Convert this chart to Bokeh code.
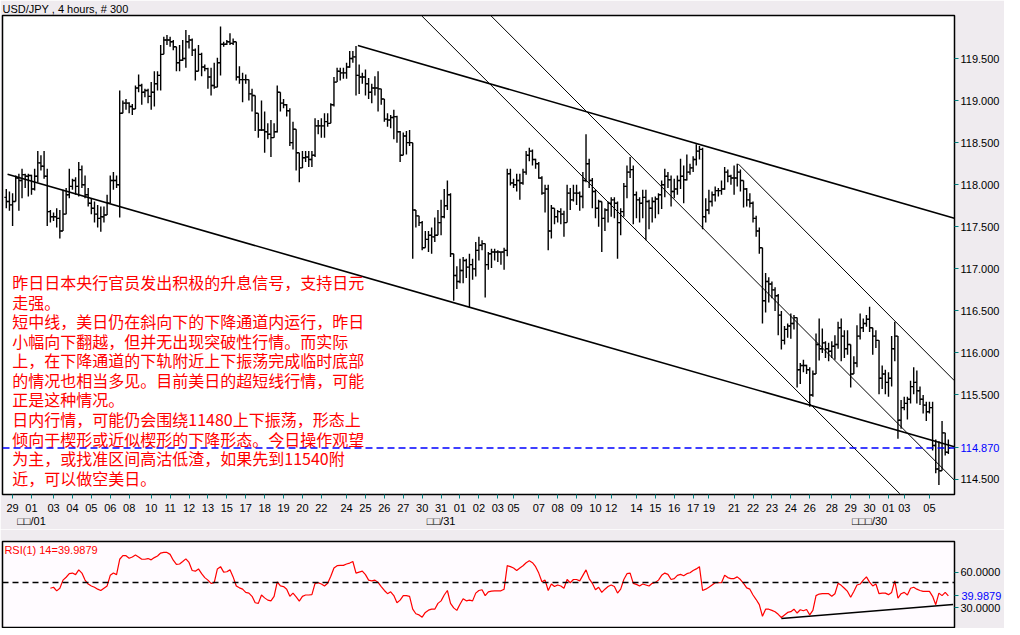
import numpy as np
from bokeh.plotting import figure
from bokeh.models import Range1d, FixedTicker, LinearAxis, Span, ColumnDataSource
from bokeh.layouts import column
from bokeh.embed import file_html
from bokeh.resources import INLINE
from bokeh.core.properties import value

# ---------------- data (USD/JPY 4-hour bars, 300 bars) ----------------
bar_open = [
117.85, 117.80, 117.76, 117.80, 118.08, 118.05, 118.12, 118.10, 118.11, 117.95,
118.10, 118.26, 118.22, 118.10, 117.68, 117.62, 117.62, 117.60, 117.45, 117.65,
117.88, 117.98, 118.05, 117.98, 118.18, 118.00, 117.88, 117.78, 117.72, 117.65,
117.60, 117.62, 117.64, 117.78, 118.05, 118.05, 118.00, 118.85, 118.97, 118.97,
118.93, 118.90, 119.15, 119.18, 119.10, 119.12, 119.05, 119.10, 119.20, 119.30,
119.55, 119.72, 119.72, 119.70, 119.64, 119.45, 119.48, 119.50, 119.70, 119.72,
119.60, 119.35, 119.55, 119.40, 119.38, 119.28, 119.18, 119.16, 119.45, 119.67,
119.67, 119.70, 119.68, 119.70, 119.28, 119.25, 119.25, 119.25, 119.08, 119.06,
118.85, 118.65, 118.65, 118.63, 118.60, 118.56, 118.63, 119.10, 118.97, 118.95,
118.88, 118.50, 118.66, 118.38, 118.20, 118.32, 118.33, 118.30, 118.35, 118.70,
118.70, 118.70, 118.75, 118.73, 118.95, 119.22, 119.35, 119.33, 119.33, 119.40,
119.50, 119.52, 119.30, 119.28, 119.28, 119.20, 119.10, 119.15, 119.15, 119.14,
119.02, 118.78, 118.77, 118.80, 118.81, 118.63, 118.35, 118.58, 118.50, 118.50,
117.70, 117.63, 117.55, 117.25, 117.35, 117.40, 117.38, 117.40, 117.55, 117.62,
117.75, 117.88, 117.18, 116.92, 116.85, 116.98, 117.10, 117.02, 117.05, 117.00,
117.22, 117.28, 117.30, 117.05, 117.18, 117.20, 117.20, 117.20, 117.20, 117.22,
118.13, 118.02, 118.00, 118.05, 118.02, 118.15, 118.35, 118.40, 118.30, 118.25,
118.08, 117.90, 117.95, 117.45, 117.72, 117.62, 117.68, 117.65, 117.55, 117.90,
117.82, 117.90, 117.90, 117.86, 118.05, 118.25, 118.05, 117.92, 117.72, 117.80,
117.60, 117.70, 117.78, 117.82, 117.78, 117.55, 117.68, 117.98, 118.15, 118.18,
117.88, 117.82, 117.78, 117.85, 117.80, 117.72, 117.80, 117.83, 117.88, 118.00,
118.10, 118.06, 117.92, 117.95, 118.05, 118.10, 118.06, 118.15, 118.20, 118.30,
118.40, 118.42, 117.62, 117.70, 117.80, 117.88, 117.93, 117.93, 117.95, 118.15,
118.10, 118.08, 118.08, 118.15, 118.05, 117.95, 117.82, 117.78, 117.60, 117.45,
117.25, 116.62, 116.85, 116.82, 116.75, 116.68, 116.45, 116.15, 116.28, 116.32,
116.35, 116.42, 115.80, 115.85, 115.85, 115.80, 115.50, 115.75, 116.10, 116.05,
116.12, 116.05, 116.02, 116.08, 116.10, 116.30, 116.20, 116.05, 116.10, 115.75,
115.88, 116.20, 116.30, 116.35, 116.40, 116.30, 116.20, 116.15, 115.70, 115.75,
115.65, 115.70, 116.05, 116.20, 115.20, 115.35, 115.40, 115.45, 115.60, 115.65,
115.55, 115.45, 115.38, 115.30, 115.35, 114.90, 114.62, 114.60, 115.05, 114.82,
]
bar_high = [
117.95, 117.92, 117.90, 118.11, 118.13, 118.19, 118.13, 118.13, 118.12, 118.19,
118.40, 118.35, 118.40, 118.19, 117.70, 117.67, 117.72, 117.70, 117.94, 117.96,
118.19, 118.07, 118.09, 118.27, 118.23, 118.11, 117.96, 117.84, 117.80, 117.76,
117.74, 117.74, 117.88, 118.11, 118.15, 118.11, 119.12, 119.00, 119.02, 118.98,
118.96, 119.18, 119.31, 119.20, 119.14, 119.14, 119.22, 119.35, 119.35, 119.66,
119.76, 119.78, 119.76, 119.72, 119.64, 119.66, 119.72, 119.84, 119.78, 119.74,
119.62, 119.66, 119.57, 119.43, 119.39, 119.39, 119.45, 119.51, 119.88, 119.70,
119.72, 119.80, 119.74, 119.70, 119.41, 119.33, 119.31, 119.25, 119.14, 119.06,
118.85, 119.00, 118.87, 118.73, 118.77, 118.73, 119.18, 119.10, 119.02, 118.96,
118.91, 118.75, 118.66, 118.38, 118.40, 118.40, 118.40, 118.40, 118.79, 118.77,
118.79, 118.85, 118.85, 118.97, 119.28, 119.39, 119.39, 119.39, 119.45, 119.59,
119.59, 119.65, 119.43, 119.33, 119.37, 119.27, 119.20, 119.29, 119.35, 119.14,
119.02, 118.85, 118.83, 118.89, 118.82, 118.64, 118.62, 118.64, 118.65, 118.50,
117.70, 117.63, 117.57, 117.45, 117.45, 117.49, 117.61, 117.70, 117.82, 117.95,
118.05, 117.90, 117.18, 117.03, 117.12, 117.14, 117.12, 117.18, 117.12, 117.32,
117.38, 117.34, 117.30, 117.20, 117.24, 117.24, 117.22, 117.20, 117.25, 118.19,
118.19, 118.07, 118.13, 118.13, 118.19, 118.40, 118.44, 118.42, 118.31, 118.27,
118.10, 118.00, 118.00, 117.76, 117.72, 117.70, 117.72, 117.69, 118.00, 117.96,
118.00, 118.00, 117.92, 118.15, 118.60, 118.31, 118.08, 117.94, 117.82, 117.80,
117.72, 117.80, 117.85, 117.85, 117.80, 117.72, 118.02, 118.23, 118.33, 118.23,
117.92, 117.85, 117.94, 117.94, 117.82, 117.85, 117.86, 117.90, 118.05, 118.19,
118.15, 118.11, 118.07, 118.11, 118.31, 118.23, 118.36, 118.25, 118.34, 118.48,
118.46, 118.44, 117.84, 117.94, 117.92, 117.98, 117.96, 118.05, 118.21, 118.18,
118.12, 118.23, 118.25, 118.18, 118.05, 117.96, 117.90, 117.80, 117.63, 117.49,
117.25, 116.95, 116.90, 116.85, 116.78, 116.70, 116.50, 116.32, 116.35, 116.47,
116.45, 116.42, 115.88, 115.92, 115.86, 115.83, 115.79, 116.23, 116.41, 116.29,
116.14, 116.12, 116.14, 116.21, 116.37, 116.41, 116.27, 116.27, 116.10, 115.96,
116.33, 116.47, 116.41, 116.45, 116.55, 116.30, 116.27, 116.15, 115.85, 115.80,
115.77, 116.20, 116.37, 116.20, 115.44, 115.48, 115.48, 115.67, 115.83, 115.79,
115.60, 115.50, 115.42, 115.42, 115.42, 114.97, 114.95, 115.19, 115.05, 114.97,
]
bar_low = [
117.72, 117.69, 117.51, 117.80, 117.69, 117.84, 117.96, 117.86, 117.88, 117.93,
118.03, 118.17, 118.07, 117.51, 117.55, 117.57, 117.49, 117.36, 117.45, 117.65,
117.84, 117.94, 117.88, 117.86, 117.96, 117.84, 117.74, 117.65, 117.55, 117.49,
117.44, 117.55, 117.64, 117.78, 117.94, 117.96, 117.61, 118.85, 118.89, 118.85,
118.83, 118.90, 119.10, 118.95, 119.04, 118.97, 118.89, 118.93, 119.12, 119.12,
119.55, 119.66, 119.64, 119.60, 119.35, 119.35, 119.47, 119.39, 119.62, 119.53,
119.24, 119.35, 119.29, 119.35, 119.14, 119.06, 119.14, 119.16, 119.30, 119.64,
119.66, 119.66, 119.66, 119.24, 119.20, 118.98, 119.20, 119.00, 118.87, 118.64,
118.56, 118.64, 118.38, 118.54, 118.33, 118.56, 118.62, 118.87, 118.91, 118.81,
118.46, 118.42, 118.17, 118.03, 118.20, 118.27, 118.21, 118.21, 118.33, 118.60,
118.56, 118.56, 118.69, 118.73, 118.93, 119.22, 119.24, 119.26, 119.26, 119.39,
119.45, 119.06, 119.08, 119.20, 119.06, 119.02, 118.97, 119.06, 118.87, 118.95,
118.75, 118.69, 118.67, 118.54, 118.50, 118.27, 118.35, 118.36, 118.46, 117.12,
117.49, 117.51, 117.22, 117.25, 117.20, 117.18, 117.32, 117.41, 117.40, 117.60,
117.70, 117.14, 116.62, 116.76, 116.83, 116.83, 116.89, 116.54, 116.87, 116.91,
117.10, 117.22, 116.66, 116.99, 117.01, 117.10, 117.08, 117.05, 116.99, 117.15,
117.99, 117.96, 117.92, 117.82, 118.00, 118.12, 118.28, 118.23, 118.19, 118.07,
117.88, 117.67, 117.22, 117.36, 117.53, 117.55, 117.53, 117.38, 117.55, 117.70,
117.80, 117.76, 117.69, 117.72, 118.03, 117.96, 117.72, 117.60, 117.50, 117.20,
117.45, 117.55, 117.62, 117.60, 117.12, 117.40, 117.62, 117.84, 118.08, 117.53,
117.60, 117.55, 117.60, 117.34, 117.47, 117.55, 117.60, 117.65, 117.71, 117.85,
117.96, 117.74, 117.84, 117.88, 117.95, 117.78, 118.05, 118.12, 118.15, 118.23,
118.30, 117.47, 117.55, 117.65, 117.74, 117.80, 117.86, 117.88, 117.94, 118.03,
118.00, 117.88, 117.98, 117.92, 117.73, 117.74, 117.73, 117.55, 117.38, 117.18,
116.35, 116.48, 116.60, 116.65, 116.50, 116.21, 116.04, 116.10, 116.18, 116.17,
116.28, 115.59, 115.63, 115.77, 115.75, 115.36, 115.48, 115.75, 115.91, 116.00,
115.94, 115.90, 115.94, 115.92, 116.05, 115.90, 115.94, 115.98, 115.59, 115.75,
115.83, 116.16, 116.25, 116.31, 116.25, 115.98, 116.06, 115.51, 115.57, 115.51,
115.48, 115.60, 115.90, 114.98, 115.10, 115.32, 115.21, 115.40, 115.51, 115.40,
115.38, 115.28, 115.19, 115.28, 114.84, 114.57, 114.43, 114.60, 114.78, 114.80,
]
bar_close = [
117.80, 117.76, 117.80, 118.08, 118.05, 118.12, 118.10, 118.11, 117.95, 118.10,
118.26, 118.22, 118.10, 117.68, 117.62, 117.62, 117.60, 117.45, 117.65, 117.88,
117.98, 118.05, 117.98, 118.18, 118.00, 117.88, 117.78, 117.72, 117.65, 117.60,
117.62, 117.64, 117.78, 118.05, 118.05, 118.00, 118.85, 118.97, 118.97, 118.93,
118.90, 119.15, 119.18, 119.10, 119.12, 119.05, 119.10, 119.20, 119.30, 119.55,
119.72, 119.72, 119.70, 119.64, 119.45, 119.48, 119.50, 119.70, 119.72, 119.60,
119.35, 119.55, 119.40, 119.38, 119.28, 119.18, 119.16, 119.45, 119.67, 119.67,
119.70, 119.68, 119.70, 119.28, 119.25, 119.25, 119.25, 119.08, 119.06, 118.85,
118.65, 118.65, 118.63, 118.60, 118.56, 118.63, 119.10, 118.97, 118.95, 118.88,
118.50, 118.66, 118.38, 118.20, 118.32, 118.33, 118.30, 118.35, 118.70, 118.70,
118.70, 118.75, 118.73, 118.95, 119.22, 119.35, 119.33, 119.33, 119.40, 119.50,
119.52, 119.30, 119.28, 119.28, 119.20, 119.10, 119.15, 119.15, 119.14, 119.02,
118.78, 118.77, 118.80, 118.81, 118.63, 118.35, 118.58, 118.50, 118.50, 117.70,
117.63, 117.55, 117.25, 117.35, 117.40, 117.38, 117.40, 117.55, 117.62, 117.75,
117.88, 117.18, 116.92, 116.85, 116.98, 117.10, 117.02, 117.05, 117.00, 117.22,
117.28, 117.30, 117.05, 117.18, 117.20, 117.20, 117.20, 117.20, 117.22, 118.13,
118.02, 118.00, 118.05, 118.02, 118.15, 118.35, 118.40, 118.30, 118.25, 118.08,
117.90, 117.95, 117.45, 117.72, 117.62, 117.68, 117.65, 117.55, 117.90, 117.82,
117.90, 117.90, 117.86, 118.05, 118.25, 118.05, 117.92, 117.72, 117.80, 117.60,
117.70, 117.78, 117.82, 117.78, 117.55, 117.68, 117.98, 118.15, 118.18, 117.88,
117.82, 117.78, 117.85, 117.80, 117.72, 117.80, 117.83, 117.88, 118.00, 118.10,
118.06, 117.92, 117.95, 118.05, 118.10, 118.06, 118.15, 118.20, 118.30, 118.40,
118.42, 117.62, 117.70, 117.80, 117.88, 117.93, 117.93, 117.95, 118.15, 118.10,
118.08, 118.08, 118.15, 118.05, 117.95, 117.82, 117.78, 117.60, 117.45, 117.25,
116.62, 116.85, 116.82, 116.75, 116.68, 116.45, 116.15, 116.28, 116.32, 116.35,
116.42, 115.80, 115.85, 115.85, 115.80, 115.50, 115.75, 116.10, 116.05, 116.12,
116.05, 116.02, 116.08, 116.10, 116.30, 116.20, 116.05, 116.10, 115.75, 115.88,
116.20, 116.30, 116.35, 116.40, 116.30, 116.20, 116.15, 115.70, 115.75, 115.65,
115.70, 116.05, 116.20, 115.20, 115.35, 115.40, 115.45, 115.60, 115.65, 115.55,
115.45, 115.38, 115.30, 115.35, 114.90, 114.62, 114.60, 115.05, 114.82, 114.87,
]

rsi_start = 14
rsi_values = [
46.5, 47.3, 44.3, 46.5, 53.3, 55.7, 58.7, 59.2, 57.9, 61.9,
59.2, 53.3, 50.0, 48.4, 47.3, 45.7, 44.6, 46.5, 48.4, 57.3,
59.2, 57.9, 70.8, 73.8, 73.8, 71.6, 72.7, 74.3, 72.7, 70.8,
70.8, 71.4, 70.3, 72.2, 73.5, 76.0, 76.5, 76.5, 74.9, 70.0,
66.5, 66.8, 68.9, 71.1, 68.1, 61.4, 60.8, 62.7, 58.7, 55.4,
53.3, 50.6, 51.1, 62.7, 64.6, 60.0, 60.3, 61.9, 56.0, 48.4,
46.8, 45.7, 43.0, 42.4, 39.7, 34.3, 33.8, 40.8, 38.4, 36.5,
35.9, 39.7, 51.9, 48.4, 47.9, 45.7, 39.7, 42.4, 39.2, 35.7,
39.7, 40.8, 40.8, 41.1, 50.6, 51.1, 50.0, 48.4, 50.6, 56.5,
63.5, 65.4, 65.7, 65.7, 66.8, 67.6, 68.9, 59.2, 60.0, 60.8,
57.9, 53.3, 52.7, 53.3, 51.4, 47.9, 44.6, 41.9, 43.5, 40.3,
34.3, 36.5, 40.3, 40.3, 39.7, 28.9, 25.1, 24.1, 22.2, 26.2,
28.1, 28.9, 28.9, 33.8, 35.9, 40.8, 44.6, 33.8, 30.0, 27.9,
33.0, 37.6, 35.9, 36.5, 35.9, 42.4, 44.6, 45.2, 40.3, 43.5,
44.1, 44.3, 44.3, 44.3, 45.7, 65.4, 64.6, 63.5, 61.4, 63.5,
65.4, 67.9, 69.5, 67.9, 64.6, 59.2, 51.9, 53.3, 44.6, 50.0,
47.9, 49.2, 48.4, 46.5, 53.8, 51.1, 53.8, 53.8, 52.7, 57.3,
61.9, 54.6, 50.6, 45.2, 47.3, 43.0, 45.7, 47.9, 49.2, 47.9,
42.4, 45.7, 53.8, 58.7, 59.2, 50.6, 49.7, 48.4, 50.0, 49.2,
48.4, 50.6, 51.4, 53.3, 57.3, 59.2, 58.1, 53.8, 54.6, 57.3,
58.1, 57.0, 58.7, 59.5, 61.4, 62.7, 64.6, 44.6, 45.7, 47.3,
49.2, 51.1, 51.1, 51.1, 57.3, 55.4, 54.6, 54.6, 56.0, 53.8,
50.6, 46.8, 45.7, 40.8, 37.0, 32.7, 23.0, 28.9, 28.9, 27.9,
26.8, 24.6, 21.9, 24.1, 26.2, 26.8, 28.9, 25.7, 28.4, 27.6,
28.7, 24.1, 27.9, 40.3, 41.6, 41.9, 41.9, 41.9, 39.7, 41.9,
50.6, 48.9, 46.5, 43.8, 38.9, 43.8, 49.2, 50.0, 53.3, 56.0,
51.6, 48.4, 50.0, 41.9, 42.4, 42.4, 41.1, 43.0, 52.7, 38.1,
41.9, 43.0, 40.8, 46.5, 47.3, 45.7, 44.6, 43.8, 43.8, 43.8,
39.7, 32.7, 42.4, 40.3, 43.0, 39.99,
]

day_ticks = [2, 8, 15, 21, 27, 33, 39, 46, 52, 58, 64, 70, 76, 82, 88, 94, 100,
             108, 114, 120, 126, 132, 138, 144, 150, 156, 161, 169, 175, 181, 187,
             192, 200, 206, 212, 218, 223, 231, 237, 243, 249, 255, 262, 268, 274,
             280, 285, 293]
day_labels = ["29", "01", "03", "04", "05", "06", "08", "10", "11", "12", "13", "15",
              "17", "18", "19", "20", "22", "24", "25", "26", "27", "30", "31", "01",
              "02", "03", "05", "07", "08", "09", "10", "12", "14", "15", "16", "17",
              "19", "21", "22", "23", "24", "26", "28", "29", "30", "01", "03", "05"]
month_ticks = [8, 138, 274]
month_labels = ["□□/01", "□□/31", "□□□/30"]

price_ticks = [114.5, 114.87, 115.5, 116.0, 116.5, 117.0, 117.5, 118.0, 118.5, 119.0, 119.5]
last_price = 114.87
rsi_ticks = [30.0, 39.9879, 60.0]
rsi_last = 39.9879
rsi_level = 51.4

# hand-drawn trend lines: (bar index, price)
trend_x0 = [0.41, 111.6, 131.9, 153.9, 232.3]
trend_y0 = [118.124, 119.655, 120.006, 120.006, 118.248]
trend_x1 = [300.9, 300.9, 283.6, 300.9, 300.9]
trend_y1 = [114.884, 117.601, 114.326, 114.488, 115.671]
trend_w = [1.6, 1.6, 1.0, 1.0, 1.0]
rsi_trend_x = [246.0, 300.5]
rsi_trend_y = [21.0, 32.8]

note_lines = [
    "昨日日本央行官员发出积极的升息信号，支持日元",
    "走强。",
    "短中线，美日仍在斜向下的下降通道内运行，昨日",
    "小幅向下翻越，但并无出现突破性行情。而实际",
    "上，在下降通道的下轨附近上下振荡完成临时底部",
    "的情况也相当多见。目前美日的超短线行情，可能",
    "正是这种情况。",
    "日内行情，可能仍会围绕11480上下振荡，形态上",
    "倾向于楔形或近似楔形的下降形态。今日操作观望",
    "为主，或找准区间高沽低渣，如果先到11540附",
    "近，可以做空美日。",
]

assert len(bar_open) == len(bar_high) == len(bar_low) == len(bar_close) == 300
assert len(rsi_values) == 300 - rsi_start

# ---------------- styling constants ----------------
FONT = "Liberation Sans"
BG = "#EFEBEF"
TEAL = "#008080"
X_START, X_END = -1.2, 300.95
Y_MIN, Y_MAX = 114.317, 120.012
R_MIN, R_MAX = 13.54, 85.7


def style_axis(ax, color="black", tick_color=TEAL, tick_out=4, standoff=2):
    ax.axis_line_color = None
    ax.major_tick_line_color = tick_color
    ax.major_tick_out = tick_out
    ax.major_tick_in = 0
    ax.minor_tick_line_color = None
    ax.major_label_standoff = standoff
    ax.major_label_text_font = FONT
    ax.major_label_text_font_size = "11px"
    ax.major_label_text_color = color


# ---------------- main price panel ----------------
p = figure(frame_width=952, frame_height=479,
           x_range=Range1d(X_START, X_END), y_range=Range1d(Y_MIN, Y_MAX),
           y_axis_location="right", title="USD/JPY , 4 hours, # 300",
           output_backend="svg", toolbar_location=None,
           min_border_left=2, min_border_right=50, min_border_top=0, min_border_bottom=0,
           background_fill_color="white", border_fill_color=BG,
           outline_line_color="black", outline_line_width=1.5)
p.title.text_font = FONT
p.title.text_font_size = "11px"
p.title.text_font_style = "normal"
p.title.text_color = "black"
p.title.standoff = 1
p.grid.visible = False

xa = p.xaxis[0]
xa.ticker = FixedTicker(ticks=day_ticks)
xa.major_label_overrides = {t: s for t, s in zip(day_ticks, day_labels)}
style_axis(xa, tick_out=4, standoff=5)

ya = p.yaxis[0]
ya.ticker = FixedTicker(ticks=price_ticks)
ya.major_label_overrides = {t: ("" if t == last_price else f"{t:.3f}") for t in price_ticks}
style_axis(ya)

# second right axis only carries the blue last-price label, pulled back over the first
last_axis = LinearAxis(ticker=FixedTicker(ticks=[last_price]),
                       major_label_overrides={last_price: f"{last_price:.3f}"})
style_axis(last_axis, color="#0000FF", tick_color=None, tick_out=0, standoff=-42)
p.add_layout(last_axis, "right")

month_axis = LinearAxis(ticker=FixedTicker(ticks=month_ticks),
                        major_label_overrides={t: s for t, s in zip(month_ticks, month_labels)})
style_axis(month_axis, tick_color=None, tick_out=0, standoff=0)
p.add_layout(month_axis, "below")

# OHLC bars
x = np.arange(len(bar_close))
o = np.array(bar_open)
h = np.array(bar_high)
l = np.array(bar_low)
c = np.array(bar_close)
lo = np.minimum(l, np.minimum(o, c))
hi = np.maximum(h, np.maximum(o, c))
p.segment(x0=x, y0=lo, x1=x, y1=hi, line_color="black", line_width=1.4)
p.segment(x0=x - 0.6, y0=o, x1=x, y1=o, line_color="black", line_width=1.4)
p.segment(x0=x, y0=c, x1=x + 0.6, y1=c, line_color="black", line_width=1.4)

# trend lines
tsrc = ColumnDataSource(dict(x0=trend_x0, y0=trend_y0, x1=trend_x1, y1=trend_y1, w=trend_w))
p.segment(x0="x0", y0="y0", x1="x1", y1="y1", line_width="w", line_color="black", source=tsrc)

# last price line
p.add_layout(Span(location=last_price, dimension="width", line_color="#0000FF",
                  line_dash="7 4", line_width=1.5))

# comment text block
top_line_y = 116.843
line_step = 0.2326
nsrc = ColumnDataSource(dict(x=[1.9] * len(note_lines),
                             y=[top_line_y - k * line_step for k in range(len(note_lines))],
                             t=note_lines))
p.text(x="x", y="y", text="t", source=nsrc, text_color="#FF0000",
       text_font=value("Noto Sans CJK SC"), text_font_size="16px",
       text_baseline="middle", text_align="left")

# ---------------- RSI panel ----------------
p2 = figure(frame_width=952, frame_height=86,
            x_range=p.x_range, y_range=Range1d(R_MIN, R_MAX),
            y_axis_location="right", x_axis_location=None,
            output_backend="svg", toolbar_location=None,
            min_border_left=2, min_border_right=50, min_border_top=12, min_border_bottom=1,
            background_fill_color="#FFFBFF", border_fill_color=BG,
            outline_line_color="black", outline_line_width=1.5)
p2.grid.visible = False
ra = p2.yaxis[0]
ra.ticker = FixedTicker(ticks=rsi_ticks)
ra.major_label_overrides = {t: ("" if t == rsi_last else f"{t:.4f}") for t in rsi_ticks}
style_axis(ra)

rsi_last_axis = LinearAxis(ticker=FixedTicker(ticks=[rsi_last]),
                           major_label_overrides={rsi_last: f"{rsi_last}"})
style_axis(rsi_last_axis, color="#0000FF", tick_color=None, tick_out=0, standoff=-42)
p2.add_layout(rsi_last_axis, "right")

p2.add_layout(Span(location=rsi_level, dimension="width", line_color="black",
                   line_dash="6 4", line_width=1.5))
rx = np.arange(rsi_start, rsi_start + len(rsi_values))
p2.line(rx, rsi_values, line_color="#FF0000", line_width=1.2)
p2.line(rsi_trend_x, rsi_trend_y, line_color="black", line_width=1.5)
p2.text(x=[X_START + 0.6], y=[R_MAX - 7.5], text=[f"RSI(1) 14={rsi_last}"],
        text_color="#FF0000", text_font=value(FONT), text_font_size="11px",
        text_baseline="middle", text_align="left")

layout = column(p, p2, spacing=0)
open("out.html", "w").write(file_html(layout, INLINE))
